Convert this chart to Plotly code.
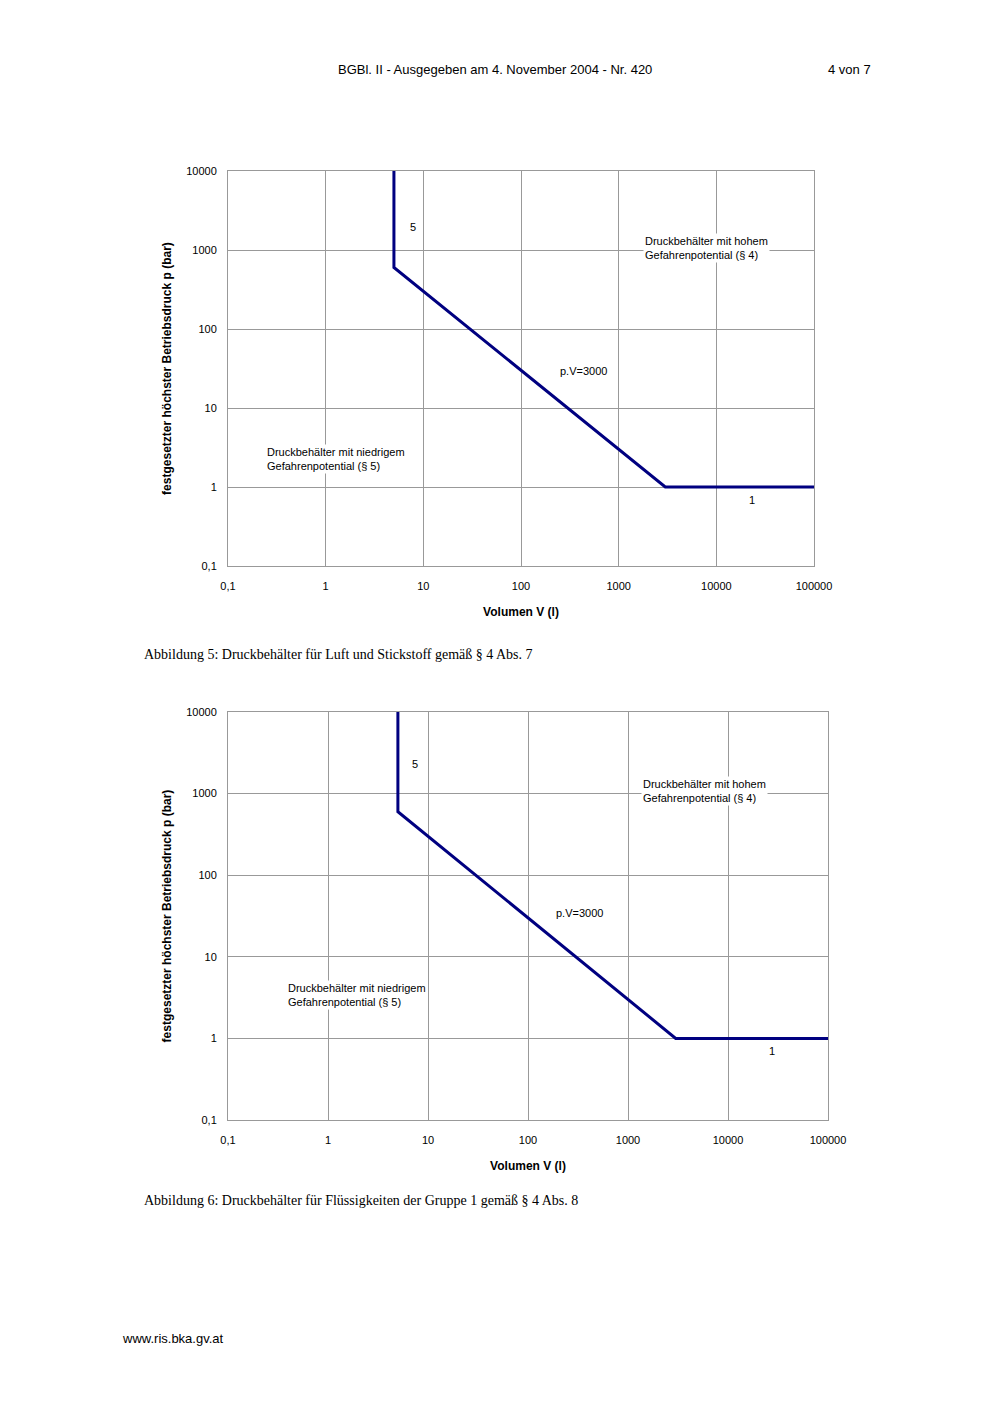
import plotly.graph_objects as go

V = [5, 5, 3000, 100000]
P = [10000, 600, 1, 1]
xticks = [0.1, 1, 10, 100, 1000, 10000, 100000]
xlabels = ["0,1", "1", "10", "100", "1000", "10000", "100000"]
yticks = [0.1, 1, 10, 100, 1000, 10000]
ylabels = ["0,1", "1", "10", "100", "1000", "10000"]

W, H = 992, 1403
def px(x): return x / W
def py(y): return 1 - y / H

fig = go.Figure()
charts = [
    dict(x0=228, x1=814, y0=171, y1=566, caption="Abbildung 5: Druckbehälter für Luft und Stickstoff gemäß § 4 Abs. 7", cap_y=655,
         low=(268, 450), high=(646, 248), lab5=(411, 227), labpv=(583, 371), lab1=(750, 500)),
    dict(x0=228, x1=828, y0=712, y1=1120, caption="Abbildung 6: Druckbehälter für Flüssigkeiten der Gruppe 1 gemäß § 4 Abs. 8", cap_y=1200,
         low=(289, 986), high=(644, 791), lab5=(413, 764), labpv=(579, 913), lab1=(770, 1051)),
]
tickfont = dict(family="Liberation Sans", size=11, color="black")
for i, c in enumerate(charts, start=1):
    xa = "x" if i == 1 else f"x{i}"
    ya = "y" if i == 1 else f"y{i}"
    fig.add_trace(go.Scatter(x=V, y=P, mode="lines", line=dict(color="#000080", width=3),
                             xaxis=xa, yaxis=ya, showlegend=False, hoverinfo="skip"))
    axx = dict(type="log", range=[-1, 5], domain=[px(c["x0"]), px(c["x1"])], anchor=ya, automargin=False,
               tickvals=xticks, ticktext=xlabels, showgrid=True, gridcolor="#999999", gridwidth=1,
               showline=True, linecolor="#999999", mirror=True, zeroline=False, tickfont=tickfont,
               ticks="outside", ticklen=10, tickcolor="white",
               title=dict(text="<b>Volumen V (l)</b>", font=dict(family="Liberation Sans", size=12, color="black"), standoff=16))
    axy = dict(type="log", range=[-1, 4], domain=[py(c["y1"]), py(c["y0"])], anchor=xa, automargin=False,
               tickvals=yticks, ticktext=ylabels, showgrid=True, gridcolor="#999999", gridwidth=1,
               showline=True, linecolor="#999999", mirror=True, zeroline=False, tickfont=tickfont,
               ticks="outside", ticklen=8, tickcolor="white",
               title=dict(text="<b>festgesetzter höchster Betriebsdruck p (bar)</b>", font=dict(family="Liberation Sans", size=12, color="black"), standoff=12))
    fig.layout[f"xaxis{'' if i == 1 else i}"] = axx
    fig.layout[f"yaxis{'' if i == 1 else i}"] = axy
    af = dict(family="Liberation Sans", size=11, color="black")
    def ann(text, pos, align="left", bg="rgba(0,0,0,0)"):
        fig.add_annotation(x=px(pos[0]), y=py(pos[1]), xref="paper", yref="paper", text=text,
                           showarrow=False, xanchor="left", yanchor="middle", align=align, font=af, bgcolor=bg)
    ann("Druckbehälter mit niedrigem<br>Gefahrenpotential (§ 5)", (c["low"][0]-3, c["low"][1]+9), bg="white")
    ann("Druckbehälter mit hohem<br>Gefahrenpotential (§ 4)", (c["high"][0]-3, c["high"][1]), bg="white")
    ann("5", (c["lab5"][0]-3, c["lab5"][1]))
    ann("p.V=3000", (c["labpv"][0]-25, c["labpv"][1]))
    ann("1", (c["lab1"][0]-3, c["lab1"][1]))
    fig.add_annotation(x=px(142), y=py(c["cap_y"]), xref="paper", yref="paper", text=c["caption"],
                       showarrow=False, xanchor="left", yanchor="middle",
                       font=dict(family="Liberation Serif", size=14, color="black"))

fig.add_annotation(x=px(495), y=py(69), xref="paper", yref="paper", text="BGBl. II - Ausgegeben am 4. November 2004 - Nr. 420",
                   showarrow=False, xanchor="center", yanchor="middle", font=dict(family="Liberation Sans", size=13, color="black"))
fig.add_annotation(x=px(873), y=py(69), xref="paper", yref="paper", text="4 von 7",
                   showarrow=False, xanchor="right", yanchor="middle", font=dict(family="Liberation Sans", size=13, color="black"))
fig.add_annotation(x=px(120), y=py(1338), xref="paper", yref="paper", text="www.ris.bka.gv.at",
                   showarrow=False, xanchor="left", yanchor="middle", font=dict(family="Liberation Sans", size=13, color="black"))

fig.update_layout(width=W, height=H, margin=dict(l=0, r=0, t=0, b=0, autoexpand=False),
                  paper_bgcolor="white", plot_bgcolor="white")
fig.write_html("out.html", config={"displayModeBar": False})
with open("out.html", encoding="utf-8") as f:
    html = f.read()
html = html.replace("<head>", "<head><style>html,body{margin:0;padding:0;overflow:hidden;}</style>", 1)
with open("out.html", "w", encoding="utf-8") as f:
    f.write(html)
